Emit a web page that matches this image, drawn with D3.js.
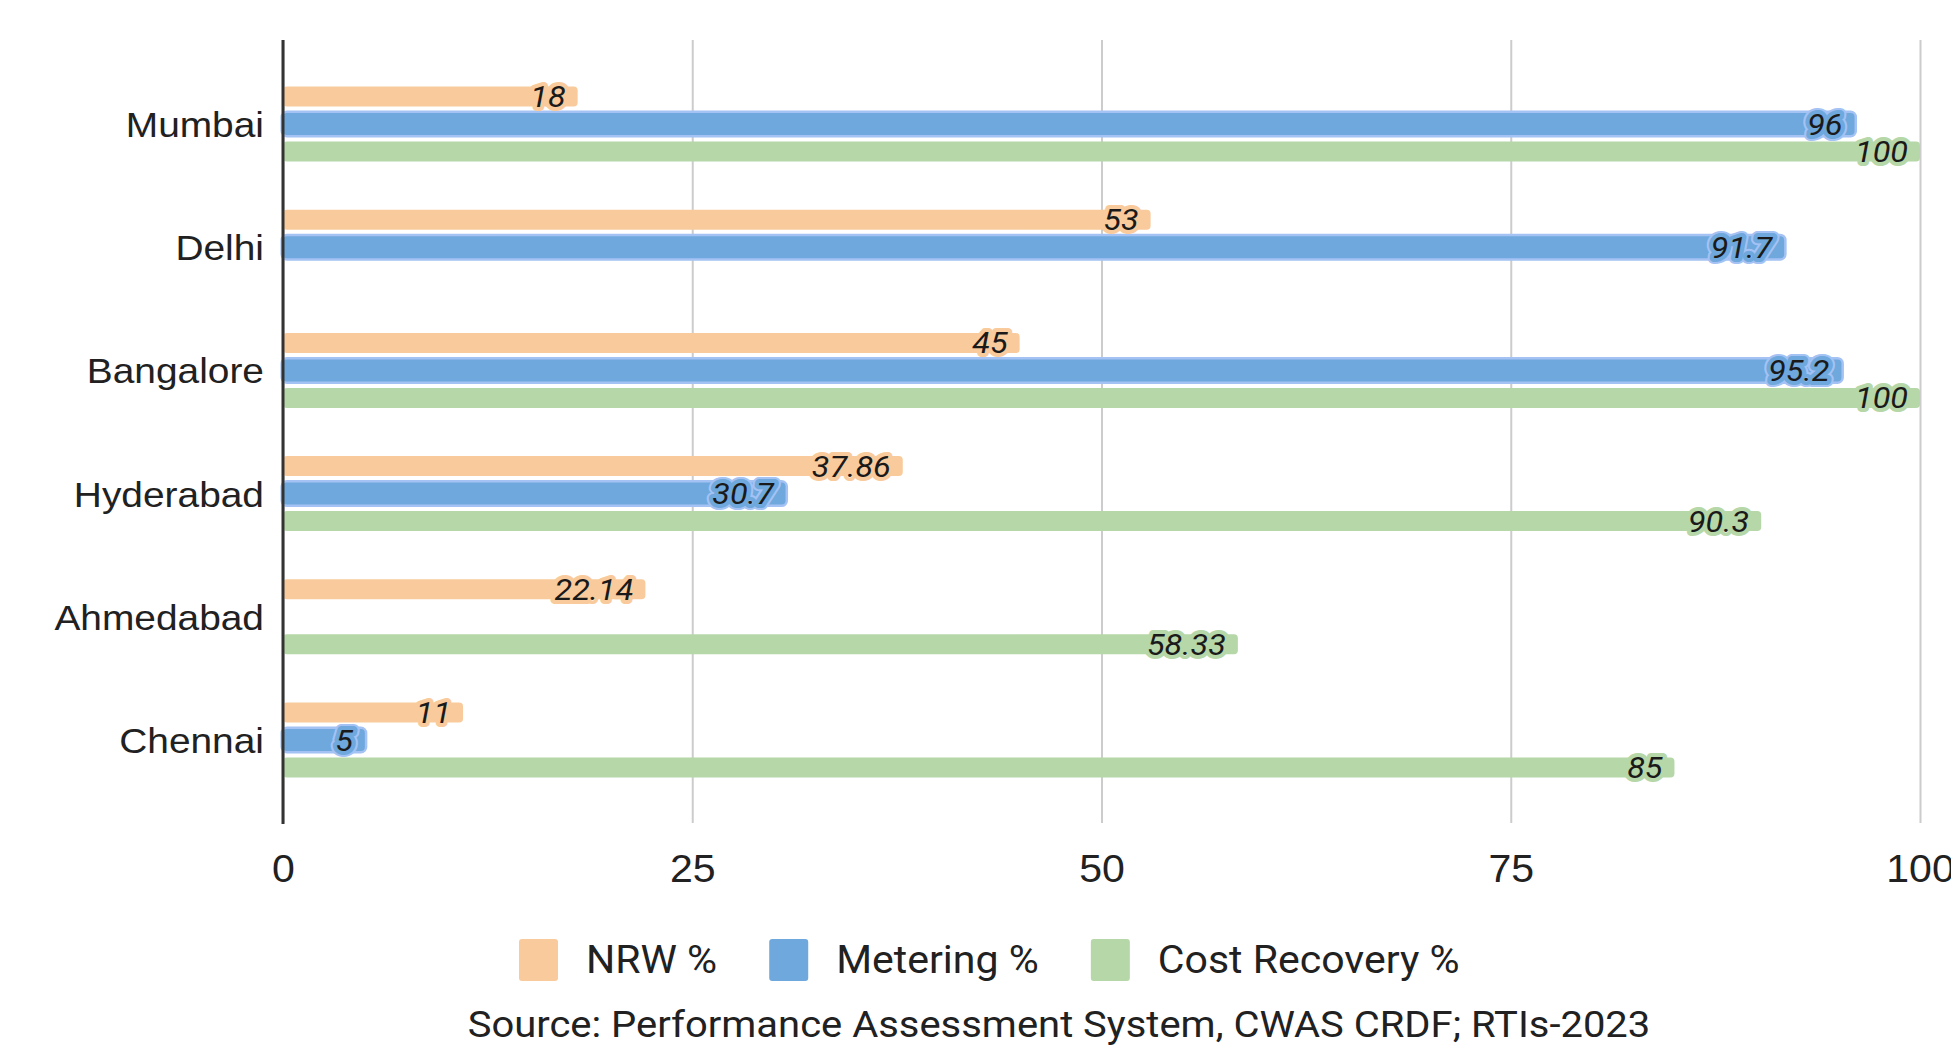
<!DOCTYPE html>
<html>
<head>
<meta charset="utf-8">
<script src="https://cdn.jsdelivr.net/npm/d3@7"></script>
<style>
  body { margin: 0; background: #fff; }
  svg { font-family: Roboto, sans-serif; }
</style>
</head>
<body>
<div class="chart"></div>
<script>
// Data
const cities = ['Mumbai', 'Delhi', 'Bangalore', 'Hyderabad', 'Ahmedabad', 'Chennai']
const series = ['NRW %', 'Metering %', 'Cost Recovery %']
const nrw = [18, 53, 45, 37.86, 22.14, 11]
const metering = [96, 91.7, 95.2, 30.7, null, 5]
const costRecovery = [100, null, 100, 90.3, 58.33, 85]
const xTicks = [0, 25, 50, 75, 100]
const sourceText = 'Source: Performance Assessment System, CWAS CRDF; RTIs-2023'

const colors = ['#f9cb9c', '#6fa8dc', '#b6d7a8']
const edge = ['#f9cb9c', '#a4c2f4', '#b6d7a8']

const width = 1951
const height = 1049
// text in the picture is a bit wider than Roboto
const widen = 1.08

// move x/y into a transform so the glyphs can be widened around their anchor
function stretch(sel) {
    sel.each(function() {
        let t = d3.select(this)
        let tx = +t.attr('x') || 0
        let ty = +t.attr('y') || 0
        t.attr('x', 0).attr('y', 0)
            .attr('transform', 'translate(' + tx + ',' + ty + ') scale(' + widen + ',1)')
    })
}

let svg = d3.select('.chart')
    .append('svg')
    .attr('width', width)
    .attr('height', height)

let x = d3.scaleLinear()
    .domain([0, 100])
    .range([283, 1920])

let y0 = d3.scaleBand()
    .domain(cities)
    .range([62.4, 801.6])

let y1 = d3.scaleBand()
    .domain(series)
    .range([y0.bandwidth() / 2 - 37.5, y0.bandwidth() / 2 + 37.5])
    .paddingInner(0.273)

// Gridlines + tick labels
let xAxis = svg.append('g')
    .attr('transform', 'translate(0,823)')
    .call(d3.axisBottom(x).tickValues(xTicks).tickSize(-783).tickSizeOuter(0).tickPadding(20))

xAxis.select('.domain').remove()
xAxis.selectAll('line').attr('stroke', '#cccccc').attr('stroke-width', 2)
xAxis.selectAll('text')
    .attr('font-size', 38)
    .attr('fill', '#212121')
    .attr('y', 59)
    .attr('dy', null)
    .call(stretch)

// Flatten rows for drawing
let rows = []
cities.forEach((c, i) => {
    [nrw[i], metering[i], costRecovery[i]].forEach((v, j) => {
        if (v !== null) rows.push({city: c, series: series[j], idx: j, value: v})
    })
})

let bars = svg.append('g')

bars.selectAll('rect')
    .data(rows)
    .enter()
    .append('rect')
    .attr('x', x(0))
    .attr('y', d => y0(d.city) + y1(d.series) - (d.idx === 1 ? 1 : 0))
    .attr('height', d => y1.bandwidth() + (d.idx === 1 ? 2 : 0))
    .attr('width', d => x(d.value) - x(0))
    .attr('rx', 4)
    .attr('fill', d => colors[d.idx])
    .attr('stroke', d => d.idx === 1 ? edge[1] : 'none')
    .attr('stroke-width', 5)
    .attr('paint-order', 'stroke')

// Value labels with a halo in the bar colour
let labels = svg.append('g')
    .attr('font-size', 30)
    .attr('font-style', 'italic')
    .attr('text-anchor', 'end')

labels.selectAll('text.edge')
    .data(rows.filter(d => d.idx === 1))
    .enter()
    .append('text')
    .attr('class', 'edge')
    .attr('x', d => x(d.value) - 12)
    .attr('y', d => y0(d.city) + y1(d.series) + y1.bandwidth() / 2 + 10.5)
    .attr('fill', 'none')
    .attr('stroke', edge[1])
    .attr('stroke-width', 12)
    .attr('stroke-linejoin', 'round')
    .text(d => d.value)
    .call(stretch)

labels.selectAll('text.val')
    .data(rows)
    .enter()
    .append('text')
    .attr('class', 'val')
    .attr('x', d => x(d.value) - 12)
    .attr('y', d => y0(d.city) + y1(d.series) + y1.bandwidth() / 2 + 10.5)
    .attr('fill', '#1a1a1a')
    .attr('stroke', d => colors[d.idx])
    .attr('stroke-width', 8)
    .attr('stroke-linejoin', 'round')
    .attr('paint-order', 'stroke')
    .text(d => d.value)
    .call(stretch)

// Category axis
let yAxis = svg.append('g')
    .attr('transform', 'translate(283,0)')
    .call(d3.axisLeft(y0).tickSize(0).tickPadding(19))

yAxis.select('.domain').remove()
yAxis.selectAll('text')
    .attr('font-size', 36)
    .attr('fill', '#212121')
    .attr('dy', null)
    .attr('y', 13)
    .call(stretch)

svg.append('line')
    .attr('x1', x(0)).attr('x2', x(0))
    .attr('y1', 40).attr('y2', 824)
    .attr('stroke', '#333333')
    .attr('stroke-width', 3)

// Legend
let legend = svg.append('g')
let lx = 519
series.forEach((s, i) => {
    let g = legend.append('g').attr('transform', 'translate(' + lx + ',939)')
    g.append('rect')
        .attr('width', 39)
        .attr('height', 42)
        .attr('rx', 3)
        .attr('fill', colors[i])
    let t = g.append('text')
        .attr('x', 67)
        .attr('y', 34)
        .attr('font-size', 38)
        .attr('fill', '#212121')
        .text(s)
    let len = t.node().getComputedTextLength() * widen
    t.call(stretch)
    lx += 67 + len + 52
})

svg.append('text')
    .attr('x', 1059)
    .attr('y', 1037)
    .attr('text-anchor', 'middle')
    .attr('font-size', 37)
    .attr('fill', '#212121')
    .text(sourceText)
    .call(stretch)
</script>
</body>
</html>
